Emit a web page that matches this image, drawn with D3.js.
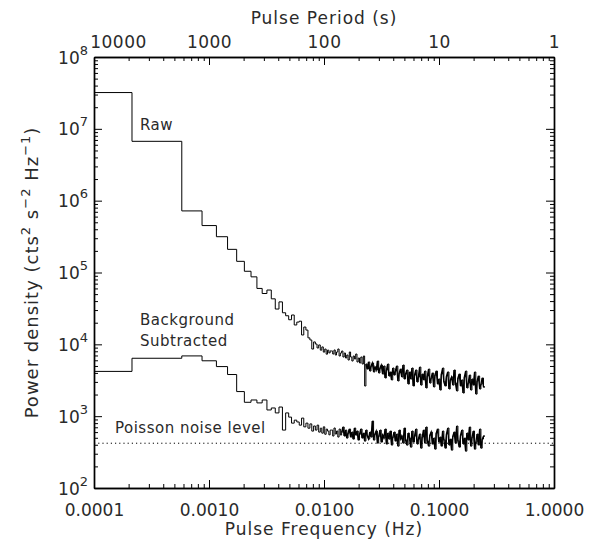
<!DOCTYPE html>
<html>
<head>
<meta charset="utf-8">
<script src="https://cdn.jsdelivr.net/npm/d3@7"></script>
<style>
  body { margin: 0; background: #fff; }
  svg text { font-family: "DejaVu Sans", sans-serif; fill: #2a2a2a; }
</style>
</head>
<body>
<div id="chart"></div>
<script>
// frequency grid of the spectrum
const binWidth = 0.00029;       // Hz, linear bin width of the low-frequency part
const firstBinEdge = 0.000214;  // Hz, end of the first plotted bin
const fMax = 0.25;              // Hz, Nyquist
const poissonLevel = 420;

// stepped low-frequency bins (one value per bin)
const rawLow = [32000000, 6700000, 720000, 450000, 315000, 210000, 143000, 104000, 87000, 60000,
  51000, 57000, 43000, 31000, 39000, 27500, 25000, 22000, 25600, 18600,
  20400, 21000, 13500, 17400, 15800, 12300, 11500, 8600, 10800, 10100,
  8900, 9800, 8300, 9200, 7800, 8600, 7300, 8300, 7600, 8100];
const bgLow = [4200, 6400, 6900, 5900, 4900, 3800, 2200, 1560, 1680, 1530,
  1680, 1220, 1300, 1110, 1340, 640, 1110, 970, 800, 880,
  830, 750, 940, 710, 800, 680, 780, 620, 730, 640,
  750, 600, 680, 580, 710, 560, 660, 620, 550, 640];

// noisy high-frequency part on an even log grid up to fMax
const rawHigh = [8070, 7330, 8340, 7100, 7820, 8610, 6880, 7570, 8070, 6660,
  7570, 6450, 7100, 6050, 7820, 6660, 5860, 6880, 6250, 7330,
  5680, 6450, 5500, 6660, 5320, 6880, 2630, 5320, 4530, 5680,
  4250, 4990, 5500, 4120, 4830, 4390, 5860, 3990, 4680, 5150,
  3860, 4990, 3400, 4390, 5320, 3620, 4120, 3190, 4680, 3740,
  4250, 4990, 3090, 3990, 4530, 3510, 5150, 3290, 3860, 4390,
  2800, 4120, 3290, 4680, 2630, 3740, 4390, 2990, 3510, 4830,
  2710, 3860, 3190, 4250, 2470, 3620, 4530, 2890, 3400, 3990,
  2550, 3740, 4250, 2800, 3290, 2310, 3860, 4680, 2990, 2630,
  3620, 4120, 2390, 3190, 3510, 2710, 4390, 2890, 2240, 3400,
  3860, 2630, 3190, 2100, 3510, 4250, 2470, 2890, 3740, 2310,
  3290, 2710, 4120, 2030, 3090, 3620, 2390, 2800, 3400, 2550];
const bgHigh = [641, 529, 684, 564, 621, 512, 662, 546, 601, 706,
  529, 641, 496, 582, 662, 512, 601, 480, 684, 546,
  621, 465, 564, 662, 496, 582, 450, 641, 529, 480,
  601, 512, 856, 465, 564, 621, 422, 529, 641, 436,
  546, 496, 662, 409, 582, 480, 621, 396, 512, 601,
  450, 564, 383, 641, 480, 529, 422, 684, 465, 396,
  582, 496, 371, 621, 436, 529, 662, 409, 480, 564,
  359, 512, 641, 422, 706, 450, 383, 546, 601, 409,
  496, 348, 582, 662, 436, 512, 383, 621, 465, 359,
  564, 684, 396, 480, 337, 529, 601, 422, 729, 450,
  371, 546, 641, 409, 496, 326, 582, 465, 706, 383,
  512, 621, 348, 436, 564, 396, 662, 359, 480, 529];

// where each noisy part turns into a solid band (index into the *High arrays)
const rawBandFrom = 27;
const bgBandFrom = 8;

const decadesX = [0.0001, 0.001, 0.01, 0.1, 1];
const decadesY = [1e2, 1e3, 1e4, 1e5, 1e6, 1e7, 1e8];

const width = 597, height = 543;
const margin = { top: 57, right: 43, bottom: 55, left: 94 };

const svg = d3.select('#chart').append('svg')
    .attr('width', width)
    .attr('height', height);

const x = d3.scaleLog().domain([0.0001, 1]).range([margin.left, width - margin.right]);
const y = d3.scaleLog().domain([100, 1e8]).range([height - margin.bottom, margin.top]);

function minorTicks(domain) {
    const out = [];
    const lo = Math.round(Math.log10(domain[0])), hi = Math.round(Math.log10(domain[1]));
    for (let e = lo; e < hi; e++) {
        for (let k = 2; k <= 9; k++) out.push(k * Math.pow(10, e));
    }
    return out;
}

function lowEdge(i) {
    if (i === 0) return x.domain()[0];
    if (i === 1) return firstBinEdge;
    return i * binWidth;
}

function buildPoints(low, high) {
    const pts = low.map((p, i) => [lowEdge(i), p]);
    const f0 = lowEdge(low.length);
    const n = high.length;
    high.forEach((p, j) => pts.push([f0 * Math.pow(fMax / f0, j / n), p]));
    pts.push([fMax, high[n - 1]]);
    return pts;
}

// axes (the four axis lines form the frame)
const fmtFreq = d3.format('.4f');
const bottomAxis = svg.append('g')
    .attr('transform', `translate(0,${y.range()[0]})`)
    .call(d3.axisBottom(x).tickValues(decadesX).tickFormat(fmtFreq)
        .tickSizeInner(-8).tickSizeOuter(0).tickPadding(16));
svg.append('g')
    .attr('transform', `translate(0,${y.range()[0]})`)
    .call(d3.axisBottom(x).tickValues(minorTicks(x.domain())).tickFormat('')
        .tickSizeInner(-4).tickSizeOuter(0));

const topAxis = svg.append('g')
    .attr('transform', `translate(0,${y.range()[1]})`)
    .call(d3.axisTop(x).tickValues(decadesX).tickFormat(d => String(Math.round(1 / d)))
        .tickSizeInner(-8).tickSizeOuter(0).tickPadding(9));
svg.append('g')
    .attr('transform', `translate(0,${y.range()[1]})`)
    .call(d3.axisTop(x).tickValues(minorTicks(x.domain())).tickFormat('')
        .tickSizeInner(-4).tickSizeOuter(0));
topAxis.selectAll('.tick text').filter(d => d === 0.0001).attr('x', 24);

const leftAxis = svg.append('g')
    .attr('transform', `translate(${x.range()[0]},0)`)
    .call(d3.axisLeft(y).tickValues(decadesY).tickSizeInner(-8).tickSizeOuter(0).tickPadding(6));
svg.append('g')
    .attr('transform', `translate(${x.range()[0]},0)`)
    .call(d3.axisLeft(y).tickValues(minorTicks(y.domain())).tickFormat('')
        .tickSizeInner(-4).tickSizeOuter(0));
leftAxis.selectAll('.tick text').each(function(d) {
    const t = d3.select(this).text(null).attr('dy', null).attr('y', 6);
    t.append('tspan').text('10');
    t.append('tspan').attr('dy', -9).attr('font-size', 13).text(Math.round(Math.log10(d)));
});

svg.append('g')
    .attr('transform', `translate(${x.range()[1]},0)`)
    .call(d3.axisRight(y).tickValues(decadesY).tickFormat('').tickSizeInner(-8).tickSizeOuter(0));
svg.append('g')
    .attr('transform', `translate(${x.range()[1]},0)`)
    .call(d3.axisRight(y).tickValues(minorTicks(y.domain())).tickFormat('')
        .tickSizeInner(-4).tickSizeOuter(0));

svg.selectAll('.domain').attr('stroke', '#000').attr('stroke-width', 1.4);
svg.selectAll('.tick line').attr('stroke', '#000');
svg.selectAll('.tick text').attr('font-size', 17).attr('fill', '#2a2a2a')
    .attr('font-family', '"DejaVu Sans", sans-serif');
topAxis.selectAll('.tick text').attr('letter-spacing', 0.5);

// Poisson noise level
svg.append('line')
    .attr('x1', x(0.0001)).attr('x2', x(1))
    .attr('y1', y(poissonLevel)).attr('y2', y(poissonLevel))
    .attr('stroke', '#000')
    .attr('stroke-width', 1)
    .attr('stroke-dasharray', '1.2,3');

// spectra
const line = d3.line()
    .x(d => x(d[0]))
    .y(d => y(d[1]))
    .curve(d3.curveStepAfter);
const bandLine = d3.line()
    .x(d => x(d[0]))
    .y(d => y(d[1]));

[[rawLow, rawHigh, rawBandFrom], [bgLow, bgHigh, bgBandFrom]].forEach(([low, high, bandFrom]) => {
    const pts = buildPoints(low, high);
    svg.append('path')
        .datum(pts)
        .attr('fill', 'none')
        .attr('stroke', '#000')
        .attr('stroke-width', 1)
        .attr('d', line);
    // the densely sampled tail reads as a heavy hatched band in the original
    svg.append('path')
        .datum(pts.slice(low.length + bandFrom))
        .attr('fill', 'none')
        .attr('stroke', '#000')
        .attr('stroke-width', 1.3)
        .attr('d', bandLine);
});

// annotations
const notes = [
    { text: 'Raw', x: 140, y: 130 },
    { text: 'Background', x: 140, y: 325 },
    { text: 'Subtracted', x: 140, y: 346 },
    { text: 'Poisson noise level', x: 115, y: 433 }
];
svg.selectAll('.note')
    .data(notes)
    .enter()
    .append('text')
    .attr('class', 'note')
    .attr('x', d => d.x)
    .attr('y', d => d.y)
    .attr('font-size', 15)
    .attr('letter-spacing', 0.5)
    .text(d => d.text);

// axis titles
svg.append('text')
    .attr('x', (x.range()[0] + x.range()[1]) / 2)
    .attr('y', 24)
    .attr('text-anchor', 'middle')
    .attr('font-size', 17)
    .attr('letter-spacing', 1)
    .text('Pulse Period (s)');

svg.append('text')
    .attr('x', (x.range()[0] + x.range()[1]) / 2)
    .attr('y', 535)
    .attr('text-anchor', 'middle')
    .attr('font-size', 17)
    .attr('letter-spacing', 1)
    .text('Pulse Frequency (Hz)');

const ytitle = svg.append('text')
    .attr('transform', `translate(38,${(y.range()[0] + y.range()[1]) / 2}) rotate(-90)`)
    .attr('text-anchor', 'middle')
    .attr('font-size', 18)
    .attr('letter-spacing', 1);
const parts = [
    ['Power density (cts', 0], ['2', -8], [' s', 8], ['\u22122', -8], [' Hz', 8], ['\u22121', -8], [')', 8]
];
parts.forEach(([txt, dy]) => {
    ytitle.append('tspan')
        .attr('dy', dy)
        .attr('font-size', dy < 0 ? 13 : 18)
        .text(txt);
});
</script>
</body>
</html>
